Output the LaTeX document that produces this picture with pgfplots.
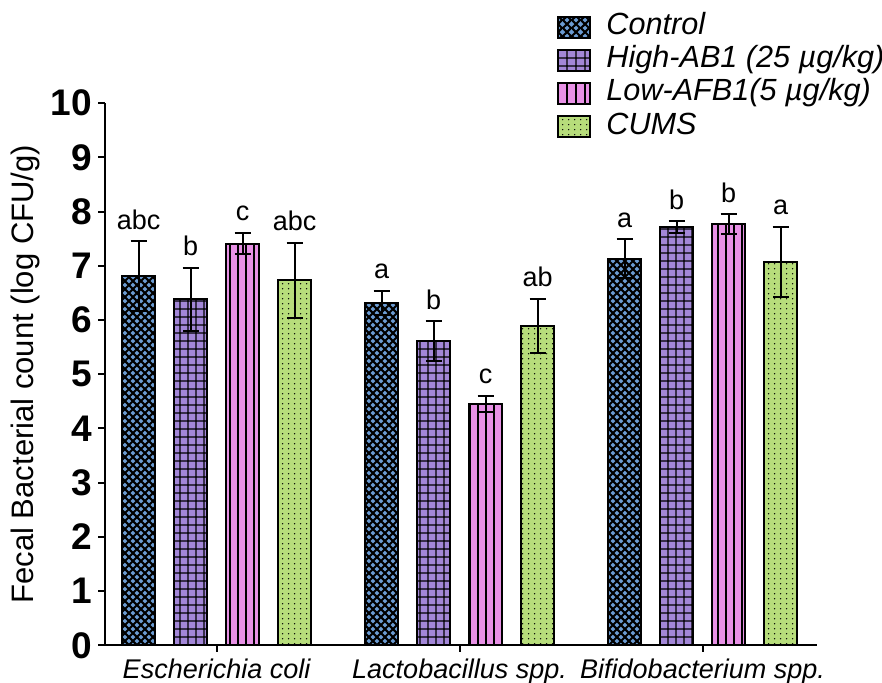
\documentclass[border=0pt]{standalone}
\usepackage{pgfplots}
\pgfplotsset{compat=1.18}
\usepackage{pgfplotstable}
\usepackage{fontspec}
\setmainfont{Liberation Sans}
\usetikzlibrary{patterns,patterns.meta}

\definecolor{cblue}{HTML}{6B9BD2}
\definecolor{cpurple}{HTML}{A387D8}
\definecolor{cpink}{HTML}{E891E6}
\definecolor{cgreen}{HTML}{B7DD7B}

\pgfdeclarepattern{
  name=diamondhatch,
  type=uncolored,
  bottom left={\pgfpoint{0pt}{0pt}},
  top right={\pgfpoint{4.2pt}{4.2pt}},
  tile size={\pgfpoint{4.2pt}{4.2pt}},
  code={
    \pgfsetlinewidth{1.1pt}
    \pgfpathmoveto{\pgfpoint{-1pt}{-1pt}}\pgfpathlineto{\pgfpoint{5.2pt}{5.2pt}}
    \pgfpathmoveto{\pgfpoint{-1pt}{5.2pt}}\pgfpathlineto{\pgfpoint{5.2pt}{-1pt}}
    \pgfusepath{stroke}
  }
}
\pgfdeclarepattern{
  name=gridhatch,
  type=uncolored,
  bottom left={\pgfpoint{0pt}{0pt}},
  top right={\pgfpoint{4.2pt}{4.2pt}},
  tile size={\pgfpoint{4.2pt}{4.2pt}},
  code={
    \pgfsetlinewidth{0.65pt}
    \pgfpathmoveto{\pgfpoint{2.1pt}{-1pt}}\pgfpathlineto{\pgfpoint{2.1pt}{5.2pt}}
    \pgfpathmoveto{\pgfpoint{-1pt}{2.1pt}}\pgfpathlineto{\pgfpoint{5.2pt}{2.1pt}}
    \pgfusepath{stroke}
  }
}
\pgfdeclarepattern{
  name=vlines,
  type=uncolored,
  bottom left={\pgfpoint{0pt}{0pt}},
  top right={\pgfpoint{4.2pt}{4.2pt}},
  tile size={\pgfpoint{4.2pt}{4.2pt}},
  code={
    \pgfsetlinewidth{0.9pt}
    \pgfpathmoveto{\pgfpoint{2.1pt}{-1pt}}\pgfpathlineto{\pgfpoint{2.1pt}{5.2pt}}
    \pgfusepath{stroke}
  }
}
\pgfdeclarepattern{
  name=dotpat,
  type=uncolored,
  bottom left={\pgfpoint{0pt}{0pt}},
  top right={\pgfpoint{2.8pt}{2.6pt}},
  tile size={\pgfpoint{2.8pt}{2.6pt}},
  code={
    \pgfpathcircle{\pgfpoint{1.4pt}{1.3pt}}{0.4pt}
    \pgfusepath{fill}
  }
}

\pgfplotstableread{
x y err lab
0 6.81 0.64 abc
1 6.32 0.22 a
2 7.13 0.36 a
}\ctrl
\pgfplotstableread{
x y err lab
0 6.38 0.58 b
1 5.61 0.37 b
2 7.71 0.11 b
}\high
\pgfplotstableread{
x y err lab
0 7.41 0.20 c
1 4.45 0.15 c
2 7.77 0.18 b
}\low
\pgfplotstableread{
x y err lab
0 6.73 0.69 abc
1 5.89 0.50 ab
2 7.07 0.65 a
}\cums

\pgfplotsset{
  mybar/.style={
    draw=black, line width=1pt,
    error bars/.cd, y dir=both, y explicit,
    error bar style={line width=1pt, black},
    error mark options={black, line width=1pt, mark size=4pt, rotate=90},
    /pgfplots/.cd,
    point meta=explicit symbolic,
    nodes near coords,
    visualization depends on={\thisrow{err} \as \myerr},
    every node near coord/.append style={anchor=base, text=black, fill=none, draw=none,
      font=\fontsize{13.5}{13.5}\selectfont, yshift={\myerr*27.1pt+6pt}},
  },
}

\begin{document}
\begin{tikzpicture}
\begin{axis}[
  ybar, bar width=0.136,
  scale only axis, width=356pt, height=271pt,
  xmin=-0.459, xmax=2.473, ymin=0, ymax=10,
  axis x line*=bottom, axis y line*=left,
  axis line style={line width=1pt},
  xtick={0,1,2},
  xticklabels={Escherichia coli, Lactobacillus spp., Bifidobacterium spp.},
  ytick={0,1,...,10},
  tick align=outside, major tick length=3.3pt,
  tick style={line width=1pt, black},
  xticklabel style={font=\itshape\fontsize{13.5}{14}\selectfont},
  yticklabel style={font=\bfseries\fontsize{18.5}{18.5}\selectfont, inner sep=3pt},
  /pgf/number format/assume math mode=true,
  ylabel={Fecal Bacterial count (log CFU/g)},
  ylabel style={font=\fontsize{15.5}{15.5}\selectfont, at={(axis description cs:-0.101,0.5)}, anchor=base},
  legend image code/.code={\draw[#1] (0pt,-5.3pt) rectangle (16pt,5.3pt); \path (22.5pt,0pt);},
  legend style={draw=none, fill=none, at={(0.626,1.178)}, anchor=north west,
    font=\itshape\fontsize{15.3}{15.3}\selectfont, row sep=0pt,
    nodes={inner sep=1pt, text height=11pt, text depth=3.5pt}},
  legend cell align=left,
  clip=false,
]
\addplot[mybar, bar shift=-0.321, fill=cblue, postaction={pattern=diamondhatch, pattern color=black}]
  table[x=x, y=y, y error=err, meta=lab] {\ctrl};
\addlegendentry{Control}
\addplot[mybar, bar shift=-0.107, fill=cpurple, postaction={pattern=gridhatch, pattern color=black}]
  table[x=x, y=y, y error=err, meta=lab] {\high};
\addlegendentry{High-AB1 (25 µg/kg)}
\addplot[mybar, bar shift=0.107, fill=cpink, postaction={pattern=vlines, pattern color=black}]
  table[x=x, y=y, y error=err, meta=lab] {\low};
\addlegendentry{Low-AFB1(5 µg/kg)}
\addplot[mybar, bar shift=0.321, fill=cgreen, postaction={pattern=dotpat, pattern color=black}]
  table[x=x, y=y, y error=err, meta=lab] {\cums};
\addlegendentry{CUMS}
\end{axis}
\pgfresetboundingbox
\path ([xshift=-52.5pt, yshift=-18.5pt]current axis.south west) rectangle ([xshift=32.25pt, yshift=51.5pt]current axis.north east);
\end{tikzpicture}
\end{document}
